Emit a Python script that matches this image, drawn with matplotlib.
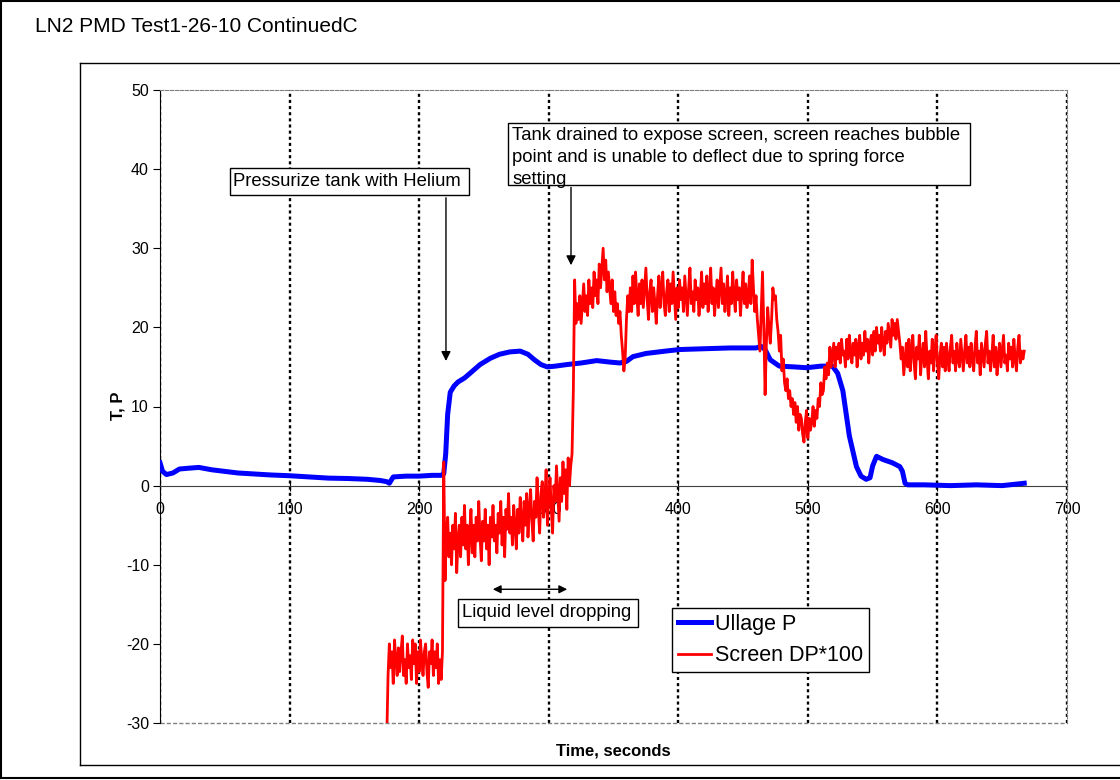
import numpy as np
import matplotlib
matplotlib.use("Agg")
import matplotlib.pyplot as plt
from matplotlib.lines import Line2D
from matplotlib.patches import Rectangle

plt.rcParams["font.family"] = ["Liberation Sans", "DejaVu Sans"]
plt.rcParams["axes.unicode_minus"] = False

# Ullage pressure (time s, value)
ullage_t = [0, 2, 5, 10, 15, 22, 30, 40, 50, 60, 70, 85, 100, 115, 130, 145, 160, 170,
            175, 177, 180, 190, 200, 210, 217, 219, 220.5, 222, 224, 227, 230, 235, 240,
            247, 255, 262, 270, 278, 284, 289, 294, 299, 305, 314, 325, 337, 348, 355,
            360, 365, 375, 390, 401, 420, 440, 460, 464, 467, 471, 478, 490, 499, 510,
            519, 523, 527, 532, 537.5, 541, 545, 548, 550, 553, 558, 565, 571, 573, 575,
            577, 590, 610, 630, 650, 667]
ullage_p = [2.9, 1.8, 1.4, 1.6, 2.1, 2.2, 2.3, 2.0, 1.8, 1.6, 1.5, 1.35, 1.25, 1.1, 0.95,
            0.9, 0.8, 0.65, 0.5, 0.3, 1.1, 1.2, 1.2, 1.3, 1.3, 1.5, 4.0, 9.0, 11.8, 12.6,
            13.1, 13.6, 14.3, 15.3, 16.1, 16.6, 16.9, 17.0, 16.6, 15.9, 15.3, 15.0, 15.1,
            15.3, 15.5, 15.8, 15.6, 15.5, 15.7, 16.3, 16.7, 17.0, 17.2, 17.3, 17.4, 17.4,
            17.6, 17.2, 15.9, 15.1, 15.0, 14.9, 15.1, 15.1, 14.2, 12.0, 6.3, 2.4, 1.2, 0.8,
            1.0, 2.5, 3.7, 3.3, 2.9, 2.4, 1.8, 0.3, 0.1, 0.1, 0.0, 0.1, 0.0, 0.3]

# Screen DP*100, one reading per second starting at t = 175 s
screen_start = 175
screen_dp = [
    -32, -24,
    # 177 - 218
    -20, -23, -21, -25, -19.5, -22, -24, -20.5, -23.5, -21,
    -19, -24, -22, -25, -20, -23, -21.5, -24.5, -19.5, -22.5,
    -20, -25, -21, -23.5, -19.5, -22, -24, -21, -20, -23.5,
    -25.5, -21, -22.5, -19.5, -24, -21, -23, -20, -25, -22,
    -24.5, -21,
    # 219 - 221
    3, -12, -6,
    # 222 - 318
    -4, -9, -6, -10, -5, -8, -3.5, -11, -7, -5,
    -9, -4, -7.5, -2.5, -8, -5, -10, -6, -3, -8.5,
    -5, -9, -4, -7, -2, -6.5, -9.5, -4.5, -7, -3,
    -8, -5, -10, -4, -6.5, -2.5, -7, -5, -8.5, -3.5,
    -6, -2, -7.5, -4, -9, -3, -5.5, -1, -6, -4,
    -7.5, -2.5, -5, -8, -3, -6, -1.5, -4.5, -7, -2,
    -5, -1, -6.5, -3, -0.5, -4.5, -7, -2, -4, 1,
    -3, -6, -1, 0.5, -4, -2, 2, -5, -1.5, 1,
    -3, -6, 0, -2, 2.5, -1, -4.5, 1, -2, 3,
    -1, 2, -3, 3.5, 0, 2.5, 4,
    # 319 - 322
    12, 26, 20.5, 23,
    # 323 - 355
    21, 24, 20.5, 23, 25.5, 22, 24, 21.5, 26, 23,
    25, 22.5, 27, 24, 26, 23, 28, 25, 27.5, 30,
    26, 28.5, 24.5, 27, 25, 23, 26, 22, 24.5, 21.5,
    23, 20.5, 22,
    # 356 - 362
    19, 17, 14.5, 16, 21, 24, 22,
    # 363 - 456
    25, 22, 26.5, 23, 27, 24, 21.5, 25.5, 23, 26,
    22.5, 25, 27.5, 23.5, 21, 24.5, 26, 22, 25, 23,
    20.5, 24, 26.5, 22.5, 25, 27, 23, 21.5, 24.5, 26,
    22, 25.5, 23, 27, 24, 21, 25, 22.5, 26, 23.5,
    25, 22, 26.5, 24, 21.5, 25, 27.5, 23, 24.5, 22,
    26, 23.5, 25, 21.5, 24, 27, 22.5, 25.5, 23, 26.5,
    22, 24.5, 27.5, 23, 25, 21.5, 24, 26, 22.5, 25,
    27.5, 23, 25.5, 22, 24, 26.5, 21.5, 25, 23, 27,
    24, 22, 26, 23.5, 25, 21.5, 24.5, 27, 23, 25.5,
    22.5, 24, 26.5, 23,
    # 457 - 576
    28.5, 25, 22, 24, 21, 19, 17, 22, 27, 20,
    11.5, 18, 22.5, 20, 18, 21, 25, 23.5, 24, 21,
    19.5, 17, 19, 14.5, 16, 13, 12, 13.5, 11, 12,
    10, 11, 9, 10.5, 8, 10, 7, 9, 8.5, 6.5,
    5.5, 8, 9.5, 6, 8.5, 7, 8, 10, 7.5, 9.5,
    8.5, 11, 10, 13, 11.5, 12, 15, 13.5, 15.5, 14,
    17.5, 15, 16.5, 18, 15, 17.5, 16, 18, 15.5, 18.5,
    16.5, 17, 15, 18.5, 16, 19, 17, 15.5, 18, 16.5,
    18.5, 15, 17.5, 19, 16, 18, 16.5, 19.5, 17, 18.5,
    15.5, 18, 19, 16.5, 19.5, 17, 20, 18, 19, 17,
    20, 18, 16.5, 19.5, 18, 20.5, 19, 17.5, 21, 19,
    20.5, 18.5, 21, 19.5, 18, 16, 17.5, 14, 16, 18,
    # 577 - 667
    15, 18.5, 14.5, 17, 19, 15.5, 13.5, 17.5, 16, 19,
    14, 16.5, 18, 15, 19.5, 16, 13.5, 17, 15.5, 18.5,
    14.5, 17, 19, 15.5, 13.5, 16.5, 18, 15, 17.5, 14.5,
    18, 16, 14.5, 17.5, 19, 15.5, 17, 14.5, 18, 16,
    15, 18.5, 16.5, 14.5, 17, 19, 15.5, 17.5, 15, 18,
    16, 14.5, 17.5, 19.5, 15.5, 17, 14, 18, 16.5, 15,
    18, 19.5, 15.5, 17, 14.5, 16.5, 19, 15, 17.5, 14,
    16.5, 18, 15, 17, 19, 15.5, 16.5, 14.5, 18, 16,
    17.5, 15, 18.5, 16, 14.5, 17.5, 19, 15.5, 17, 16,
    17,
]

x_ticks = [0, 100, 200, 300, 400, 500, 600, 700]
y_ticks = [-30, -20, -10, 0, 10, 20, 30, 40, 50]

W, H = 1120, 780


def fig_line(fig, x0, y0, x1, y1, lw=1.0):
    fig.add_artist(Line2D([x0 / W, x1 / W], [1 - y0 / H, 1 - y1 / H],
                          transform=fig.transFigure, color="black", linewidth=lw))


def note_box(ax, left, right, bottom, top):
    rect = Rectangle((left, bottom), right - left, top - bottom, facecolor="white",
                     edgecolor="black", linewidth=1.0, zorder=6)
    ax.add_patch(rect)
    return rect


def plot_chart():
    fig = plt.figure(figsize=(W / 100, H / 100), dpi=100)
    ax = fig.add_axes([160 / W, 1 - 723 / H, 907 / W, 633 / H])

    # chart frames
    fig_line(fig, 1, 1, W, 1, 1.5)
    fig_line(fig, 1, 1, 1, H - 2, 1.5)
    fig_line(fig, 1, H - 2, W, H - 2, 1.5)
    fig_line(fig, 80, 63, W, 63)
    fig_line(fig, 80, 63, 80, 765)
    fig_line(fig, 80, 765, W, 765)

    fig.text(35 / W, 1 - 27 / H, "LN2 PMD Test1-26-10 ContinuedC", fontsize=15,
             ha="left", va="center")

    screen_t = screen_start + np.arange(len(screen_dp))
    ax.plot(ullage_t, ullage_p, color="#0000ff", linewidth=3.6, label="Ullage P", zorder=3)
    ax.plot(screen_t, screen_dp, color="#ff0000", linewidth=2.0, label="Screen DP*100",
            zorder=4)

    ax.set_xlim(0, 700)
    ax.set_ylim(-30, 50)
    ax.set_xticks(x_ticks)
    ax.set_yticks(y_ticks)
    ax.set_axisbelow(True)
    ax.grid(True, color="black", linestyle=(0, (1.3, 1.3)), linewidth=1.7)
    for tick in ax.xaxis.get_major_ticks():
        if tick.get_loc() in (0, 700):
            tick.gridline.set_visible(False)
    for tick in ax.yaxis.get_major_ticks():
        if tick.get_loc() in (-30, 0, 50):
            tick.gridline.set_visible(False)

    ax.spines["left"].set_color("black")
    ax.spines["bottom"].set_position(("data", 0))
    ax.spines["bottom"].set_color("#404040")
    for side in ("top", "right"):
        ax.spines[side].set_color("#808080")
        ax.spines[side].set_linestyle((0, (3, 1.5)))
    ax.axhline(-30, color="#808080", linestyle=(0, (3, 1.5)), linewidth=1.0, clip_on=False)

    ax.tick_params(axis="x", direction="inout", length=7, pad=8, labelsize=11.5)
    ax.tick_params(axis="y", direction="out", length=5, pad=3, labelsize=11.5)

    fig.text(613 / W, 1 - 751 / H, "Time, seconds", fontsize=12, fontweight="bold",
             ha="center", va="center")
    fig.text(118 / W, 1 - 406 / H, "T, P", fontsize=12, fontweight="bold", rotation=90,
             ha="center", va="center")

    # annotations
    note_box(ax, 54.0, 238.5, 36.73, 40.1)
    ax.text(56.3, 38.43, "Pressurize tank with Helium", fontsize=13.3, ha="left",
            va="center", zorder=7)
    ax.annotate("", xy=(220.7, 15.4), xytext=(220.7, 36.73),
                arrowprops=dict(arrowstyle="-|>", color="black", lw=1.0, mutation_scale=14))

    box = note_box(ax, 268.4, 625.1, 38.04, 45.84)
    txt = ax.text(271.9, 45.35, "Tank drained to expose screen, screen reaches bubble\n"
                  "point and is unable to deflect due to spring force\nsetting",
                  fontsize=13.3, ha="left", va="top", linespacing=1.38, zorder=7)
    txt.set_clip_path(box)
    ax.annotate("", xy=(317.2, 27.5), xytext=(317.2, 38.04),
                arrowprops=dict(arrowstyle="-|>", color="black", lw=1.0, mutation_scale=14))

    note_box(ax, 229.8, 368.7, -17.84, -14.37)
    ax.text(232.9, -16.04, "Liquid level dropping", fontsize=13.3, ha="left", va="center",
            zorder=7)
    ax.annotate("", xy=(254.7, -13.1), xytext=(316.4, -13.1),
                arrowprops=dict(arrowstyle="<|-|>", color="black", lw=1.0, mutation_scale=12))

    leg = ax.legend(loc="upper left", bbox_to_anchor=(0.5645, 0.1817), borderaxespad=0,
                    fontsize=15.5, fancybox=False, edgecolor="black", framealpha=1,
                    handlelength=1.55, handletextpad=0.2, labelspacing=0.5, borderpad=0.26)
    leg.get_frame().set_linewidth(1.0)
    leg.set_zorder(8)

    fig.savefig("out.png", dpi=100)


if __name__ == "__main__":
    plot_chart()
